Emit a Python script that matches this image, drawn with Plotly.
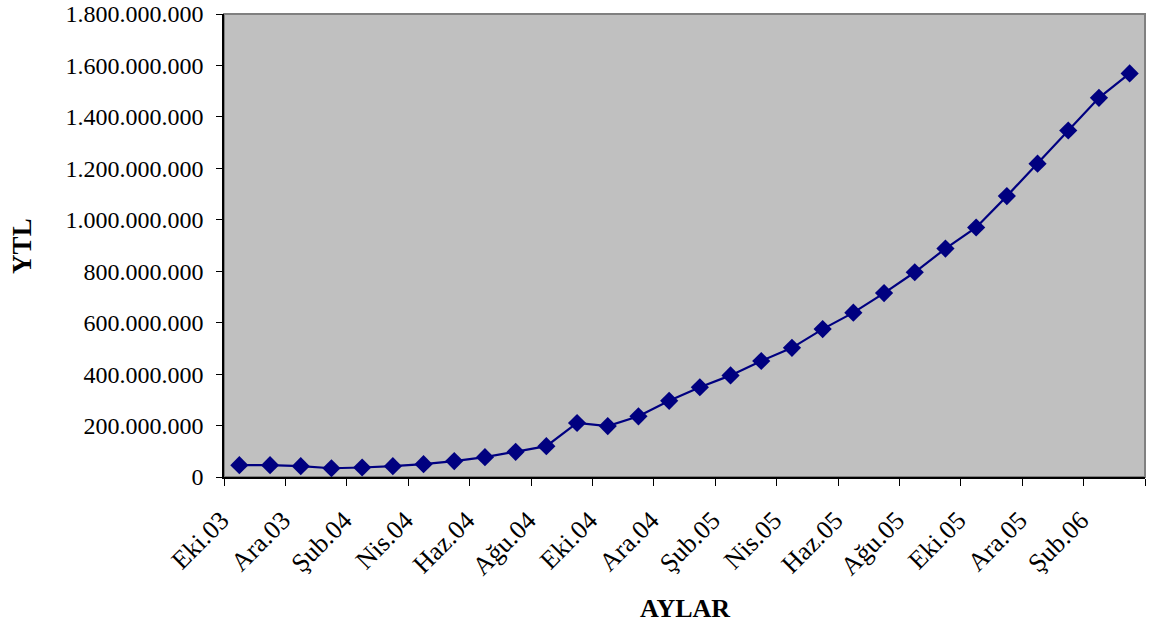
import plotly.graph_objects as go

# Monthly values (YTL), Ekim 2003 - Mart 2006
months = [
    "Eki.03", "Kas.03", "Ara.03",
    "Oca.04", "Şub.04", "Mar.04", "Nis.04", "May.04", "Haz.04",
    "Tem.04", "Ağu.04", "Eyl.04", "Eki.04", "Kas.04", "Ara.04",
    "Oca.05", "Şub.05", "Mar.05", "Nis.05", "May.05", "Haz.05",
    "Tem.05", "Ağu.05", "Eyl.05", "Eki.05", "Kas.05", "Ara.05",
    "Oca.06", "Şub.06", "Mar.06",
]
values = [
    46e6, 46e6, 42e6, 34e6, 37e6, 42e6, 50e6, 62e6, 77e6, 98e6,
    120e6, 210e6, 198e6, 236e6, 296e6, 349e6, 395e6, 451e6, 502e6, 575e6,
    639e6, 715e6, 796e6, 888e6, 970e6, 1092e6, 1218e6, 1347e6, 1474e6, 1569e6,
]
y_ticks = [0, 200e6, 400e6, 600e6, 800e6, 1000e6, 1200e6, 1400e6, 1600e6, 1800e6]

idx = list(range(len(months)))
label_pos = idx[::2]
label_txt = months[::2]
boundary_pos = [i - 0.5 for i in idx[::2]] + [len(months) - 0.5]

font_family = "Liberation Serif, Times New Roman, serif"

fig = go.Figure()
fig.add_trace(go.Scatter(
    x=idx, y=values, mode="lines+markers",
    line=dict(color="#000080", width=2.2),
    marker=dict(symbol="diamond", size=14, color="#000080"),
    showlegend=False,
    cliponaxis=False,
))

fig.update_layout(
    width=1160, height=632,
    margin=dict(l=224, r=15, t=14, b=155, autoexpand=False),
    paper_bgcolor="white",
    plot_bgcolor="#C0C0C0",
    separators=",.",
    font=dict(family=font_family, size=26, color="black"),
    xaxis=dict(
        automargin=False,
        range=[-0.5, len(months) - 0.5],
        tickmode="array", tickvals=label_pos, ticktext=label_txt,
        tickangle=-45, ticks="", ticklen=0,
        ticklabelstandoff=16, ticklabelshift=-18,
        ticklabeloverflow="allow",
        showgrid=False, zeroline=False,
        showline=True, linecolor="black", linewidth=1.5,
        mirror=False,
        tickfont=dict(size=26),
        minor=dict(tickmode="array", tickvals=boundary_pos,
                   ticks="outside", ticklen=7, tickcolor="black",
                   tickwidth=1, showgrid=False),
    ),
    yaxis=dict(
        automargin=False,
        range=[0, 1800e6],
        tickmode="array", tickvals=y_ticks,
        tickformat=",d",
        ticks="outside", ticklen=6, tickcolor="black",
        ticklabelstandoff=8,
        ticklabeloverflow="allow",
        showgrid=False, zeroline=False,
        showline=True, linecolor="black", linewidth=1.5,
        tickfont=dict(size=24),
    ),
    shapes=[
        dict(type="rect", xref="paper", yref="paper", x0=0, x1=1, y0=0, y1=1,
             line=dict(color="#808080", width=2), fillcolor="rgba(0,0,0,0)",
             layer="below"),
    ],
    annotations=[
        dict(text="<b>YTL</b>", xref="paper", yref="paper",
             x=-0.220, xanchor="center", y=0.5, textangle=-90,
             showarrow=False, font=dict(size=27, family=font_family)),
        dict(text="<b>AYLAR</b>", xref="paper", yref="paper",
             x=0.5, y=-0.285, yanchor="middle", showarrow=False,
             font=dict(size=26, family=font_family)),
    ],
)

fig.write_html("out.html")
